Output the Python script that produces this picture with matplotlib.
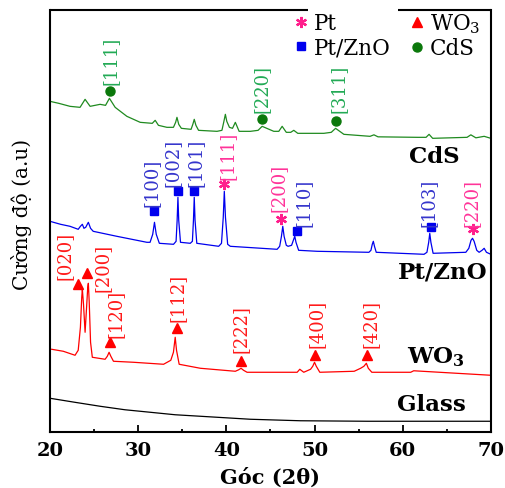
import matplotlib.pyplot as plt
from matplotlib.lines import Line2D

plt.rcParams['font.family'] = 'DejaVu Serif'
plt.rcParams['mathtext.fontset'] = 'dejavuserif'

# XRD traces: 2theta (deg) and stacked intensity (a.u.)
glass_2t = [20, 22.8, 25.68, 28.5, 31.36, 34.2, 37.05, 42.73, 48.41, 56, 70]
glass_i = [34, 30, 26, 22.5, 20, 17.5, 16, 13, 11.5, 11, 11]

wo3_2t = [20.19, 21.51, 22.84, 23.2, 23.45, 23.6, 23.67, 23.8, 23.98, 24.15, 24.28,
          24.35, 24.45, 24.6, 24.8, 26.25, 26.5, 26.7, 26.9, 27.2, 29.47, 32.88,
          33.7, 34.0, 34.2, 34.35, 34.65, 37.05, 41.02, 41.4, 41.67, 41.95, 42.35,
          48.03, 48.33, 48.78, 49.55, 49.8, 50.0, 50.2, 50.6, 54.5, 55.23, 55.6,
          55.88, 56.1, 56.5, 60.91, 61.25, 70.0]
wo3_i = [83, 81, 77, 82, 105, 135, 143, 128, 100, 125, 145,
         149, 130, 90, 75, 73, 76, 80, 76, 71, 70, 68,
         72, 80, 95, 82, 68, 64, 61, 62.5, 64, 62, 60,
         60, 63, 60, 63, 66, 70, 66, 60, 61, 64, 66,
         69, 64, 60, 60, 61.5, 57]

zno_2t = [20.0, 21.2, 22.27, 23.2, 23.45, 23.67, 23.85, 24.05, 24.35, 24.6, 24.9,
          27.58, 30.99, 31.35, 31.65, 31.85, 32.05, 32.4, 34.01, 34.3, 34.42, 34.51,
          34.6, 34.8, 35.91, 36.15, 36.27, 36.36, 36.45, 36.65, 39.13, 39.45, 39.65,
          39.77, 39.9, 40.15, 40.45, 45.76, 46.05, 46.25, 46.4, 46.55, 46.8, 47.0,
          47.4, 47.6, 47.76, 47.9, 48.2, 50.31, 56.17, 56.4, 56.55, 56.67, 56.8,
          57.0, 62.42, 62.75, 62.95, 63.07, 63.2, 63.45, 67.16, 67.5, 67.75, 67.92,
          68.1, 68.4, 68.67, 69.0, 69.24, 69.5, 70.0]
zno_i = [211, 208, 206, 203, 206, 208, 204, 205, 210, 204, 201,
         196, 190, 190, 198, 210, 198, 189, 188, 191, 212, 235,
         212, 190, 189, 191, 212, 235, 212, 189, 186, 189, 215,
         241, 215, 188, 186, 183, 186, 196, 206, 196, 187, 186,
         187, 192, 196, 190, 182, 181, 180, 182, 188, 191, 186,
         180, 178, 180, 190, 199, 190, 179, 180, 184, 192, 194,
         191, 182, 180, 182, 184, 180, 178]

cds_2t = [20.0, 21.0, 22.27, 23.41, 23.98, 24.55, 25.68, 26.3, 26.74, 27.39, 28.72,
          30.23, 31.6, 31.93, 32.3, 33.26, 34.0, 34.25, 34.4, 34.6, 34.9, 36.0,
          36.2, 36.36, 36.55, 36.85, 38.94, 39.5, 39.7, 39.89, 40.05, 40.35, 40.7,
          41.02, 41.45, 42.73, 43.6, 44.06, 45.38, 45.95, 46.33, 46.8, 47.3, 47.65,
          48.1, 51.06, 51.9, 52.39, 53.33, 56.3, 56.74, 57.2, 61.67, 62.65, 62.99,
          63.4, 67.3, 67.73, 68.3, 69.24, 70.0]
cds_i = [331, 329, 326, 325, 333, 326, 328, 327, 334, 325, 316,
         310, 309, 312, 307, 305, 305, 310, 315, 308, 304, 303,
         308, 313, 307, 302, 301, 302, 310, 318, 311, 305, 304,
         310, 301, 301, 302, 306, 301, 301, 306, 300, 300, 302,
         299, 299, 300, 304, 298, 296, 297.5, 295.5, 295, 295, 298,
         294, 295, 297.5, 294.5, 296, 294]

# phase markers above the peaks
wo3_mk_2t = [23.22, 24.16, 26.82, 34.4, 41.67, 50.0, 55.99]
wo3_mk_i = [148, 159, 90, 104, 71, 77, 77]
zno_mk_2t = [31.85, 34.51, 36.36, 48.03, 63.18]
zno_mk_i = [221, 241, 241, 201, 205]
pt_mk_2t = [39.77, 46.22, 67.92]
pt_mk_i = [248, 213, 203]
cds_mk_2t = [26.82, 44.06, 52.39]
cds_mk_i = [341, 313, 311]

# Miller index labels (text, 2theta, lower end of the text)
wo3_hkl = ['[020]', '[200]', '[120]', '[112]', '[222]', '[400]', '[420]']
wo3_hkl_2t = [21.7, 25.91, 27.39, 34.43, 41.59, 50.23, 56.36]
wo3_hkl_i = [153, 141, 95, 111, 80, 85, 85]
zno_hkl = ['[100]', '[002]', '[101]', '[110]', '[103]']
zno_hkl_2t = [31.48, 33.86, 36.48, 48.75, 62.95]
zno_hkl_i = [226, 246, 246, 206, 206]
pt_hkl = ['[111]', '[200]', '[220]']
pt_hkl_2t = [40.11, 45.91, 67.84]
pt_hkl_i = [253, 221, 206]
cds_hkl = ['[111]', '[220]', '[311]']
cds_hkl_2t = [26.82, 43.98, 52.73]
cds_hkl_i = [348, 320, 320]

samples = ['Glass', 'WO$_{\\mathbf{3}}$', 'Pt/ZnO', 'CdS']
sample_2t = [63.3, 63.75, 64.5, 63.6]
sample_i = [28, 76, 161, 276]

RED = '#ff0000'
BLUE = '#0000ee'
GREEN = '#1f8a1f'
PINK = '#ff1e8c'
DKGREEN = '#0b780b'
PT_MARK = (6, 2, 0)

fig = plt.figure(figsize=(5.05, 4.89), dpi=100)
ax = fig.add_axes([0.099, 0.114, 0.873, 0.864])

ax.plot(glass_2t, glass_i, color='black', lw=0.9)
ax.plot(wo3_2t, wo3_i, color=RED, lw=0.9)
ax.plot(zno_2t, zno_i, color=BLUE, lw=0.9)
ax.plot(cds_2t, cds_i, color=GREEN, lw=0.9)

ax.plot(wo3_mk_2t, wo3_mk_i, ls='', marker='^', color=RED, ms=7)
ax.plot(zno_mk_2t, zno_mk_i, ls='', marker='s', color=BLUE, ms=6)
ax.plot(pt_mk_2t, pt_mk_i, ls='', marker=PT_MARK, color=PINK, ms=8, mew=1.6)
ax.plot(cds_mk_2t, cds_mk_i, ls='', marker='o', color=DKGREEN, ms=6.5)

for labels, xs, ys, c in [(wo3_hkl, wo3_hkl_2t, wo3_hkl_i, '#ff1a1a'),
                          (zno_hkl, zno_hkl_2t, zno_hkl_i, '#3535cc'),
                          (pt_hkl, pt_hkl_2t, pt_hkl_i, '#ff3399'),
                          (cds_hkl, cds_hkl_2t, cds_hkl_i, '#22aa55')]:
    for t, x, y in zip(labels, xs, ys):
        ax.text(x, y, t, rotation=90, ha='center', va='bottom', color=c, fontsize=13)

for t, x, y in zip(samples, sample_2t, sample_i):
    ax.text(x, y, t, ha='center', va='center', fontsize=16.5, fontweight='bold')

handles = [
    Line2D([], [], ls='', marker=PT_MARK, color=PINK, ms=8, mew=1.6),
    Line2D([], [], ls='', marker='s', color=BLUE, ms=6),
    Line2D([], [], ls='', marker='^', color=RED, ms=7),
    Line2D([], [], ls='', marker='o', color=DKGREEN, ms=6.5),
]
ax.legend(handles, ['Pt', 'Pt/ZnO', 'WO$_3$', 'CdS'], ncol=2, loc='upper right',
          bbox_to_anchor=(1.005, 1.027), frameon=False, fontsize=15.5,
          handlelength=0.6, handletextpad=0.3, columnspacing=0.9,
          labelspacing=0.12, borderaxespad=0.2)

ax.set_xlim(20, 70)
ax.set_ylim(0, 422.6)
ax.set_xticks(range(20, 71, 10))
ax.set_xticks(range(25, 70, 10), minor=True)
ax.set_yticks([])
ax.tick_params(axis='x', which='major', direction='in', length=5, width=1.3,
               labelsize=14, pad=6)
ax.tick_params(axis='x', which='minor', direction='in', length=2.5, width=1.3)
for lab in ax.get_xticklabels():
    lab.set_fontweight('bold')
for s in ['left', 'right', 'bottom']:
    ax.spines[s].set_linewidth(1.5)
# top frame is broken where the legend's first column sits
ax.spines['top'].set_visible(False)
ax.plot([0, 0.586], [1, 1], transform=ax.transAxes, color='black', lw=1.5,
        clip_on=False, solid_capstyle='butt')
ax.plot([0.79, 1.0], [1, 1], transform=ax.transAxes, color='black', lw=1.5,
        clip_on=False, solid_capstyle='butt')

ax.set_xlabel('Góc (2θ)', fontsize=15, fontweight='bold', labelpad=6)
ax.set_ylabel('Cường độ (a.u)', fontsize=14.5)
ax.yaxis.set_label_coords(-0.041, 0.517)

fig.savefig('out.png', dpi=100)
